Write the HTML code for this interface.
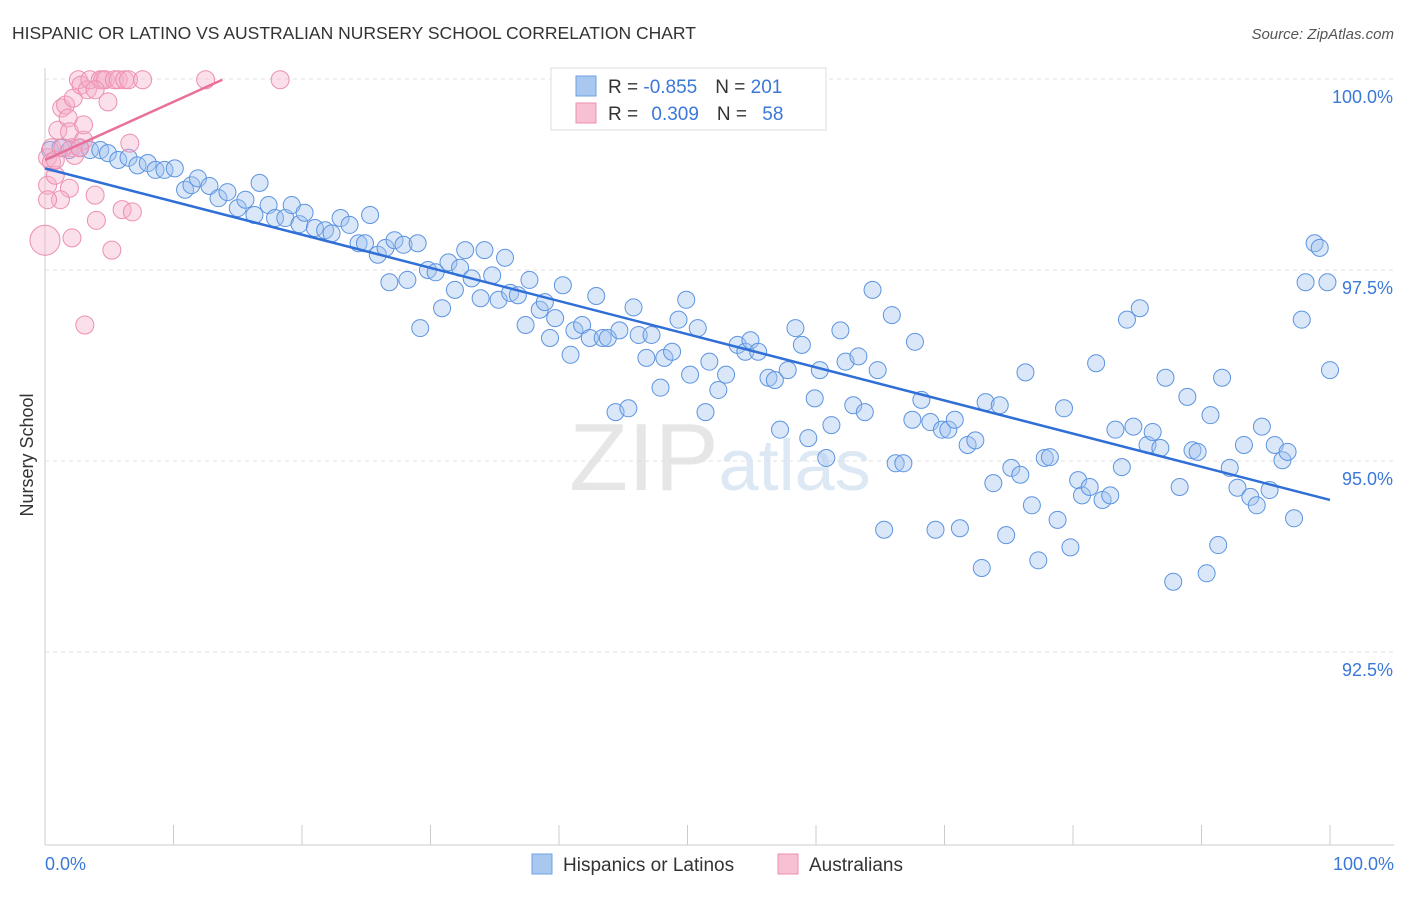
<!DOCTYPE html>
<html><head><meta charset="utf-8"><style>
body{margin:0;background:#fff;font-family:"Liberation Sans",sans-serif}
svg text{font-family:"Liberation Sans",sans-serif}
</style></head><body>
<svg id="chart" width="1406" height="892" xmlns="http://www.w3.org/2000/svg">
<text x="12" y="39" font-size="17.5" fill="#333">HISPANIC OR LATINO VS AUSTRALIAN NURSERY SCHOOL CORRELATION CHART</text>
<text x="1394" y="39" font-size="15" fill="#555" text-anchor="end" font-style="italic">Source: ZipAtlas.com</text>
<text x="720" y="490" font-size="96" fill="#e6e6e6" text-anchor="middle" font-family="Liberation Serif"><tspan>ZIP</tspan><tspan fill="#dde8f5" font-family="Liberation Sans" font-size="72">atlas</tspan></text>
<g id="grid"></g>
<g id="axes"></g>
<g id="pts"></g>
<g id="lines"></g>
<text transform="translate(33,455) rotate(-90)" font-size="18" fill="#333" text-anchor="middle">Nursery School</text>
<text x="45" y="870" font-size="18" fill="#3b78d8">0.0%</text>
<text x="1394" y="870" font-size="18" fill="#3b78d8" text-anchor="end">100.0%</text>
<g>
<rect x="551" y="68" width="275" height="62" fill="#fff" stroke="#ddd"/>
<rect x="576" y="76" width="20" height="20" fill="#a9c8f0" stroke="#6fa0e0"/>
<rect x="576" y="103" width="20" height="20" fill="#f8c0d3" stroke="#ec8fb0"/>
<text x="608" y="93" font-size="19" fill="#333">R = <tspan fill="#3b78d8">-0.855</tspan><tspan dx="18">N = </tspan><tspan fill="#3b78d8">201</tspan></text>
<text x="608" y="120" font-size="19" fill="#333">R = <tspan dx="8" fill="#3b78d8">0.309</tspan><tspan dx="18">N = </tspan><tspan dx="10" fill="#3b78d8">58</tspan></text>
</g>
<g>
<rect x="532" y="854" width="20" height="20" fill="#a9c8f0" stroke="#6fa0e0"/>
<text x="563" y="871" font-size="19" fill="#333">Hispanics or Latinos</text>
<rect x="778" y="854" width="20" height="20" fill="#f8c0d3" stroke="#ec8fb0"/>
<text x="809" y="871" font-size="19" fill="#333">Australians</text>
</g>
</svg>
<script>
const yTicks=[100,97.5,95,92.5];
const yTickLabels=["100.0%","97.5%","95.0%","92.5%"];
const xTicks=[0,10,20,30,40,50,60,70,80,90,100];
const blueX=[0.4,1.2,1.9,2.7,3.5,4.3,4.9,5.7,6.5,7.2,8.0,8.6,9.3,10.1,10.9,11.4,11.9,12.8,13.5,14.2,15.0,15.6,16.3,16.7,17.4,17.9,18.7,19.2,19.8,20.2,21.0,21.8,22.3,23.0,23.7,24.4,24.9,25.3,25.9,26.5,26.8,27.2,27.9,28.2,29.0,29.2,29.8,30.4,30.9,31.4,31.9,32.3,32.7,33.2,33.9,34.2,34.8,35.3,35.8,36.2,36.8,37.4,37.7,38.5,38.9,39.3,39.7,40.3,40.9,41.2,41.8,42.4,42.9,43.4,43.8,44.4,44.7,45.4,45.8,46.2,46.8,47.2,47.9,48.2,48.8,49.3,49.9,50.2,50.8,51.4,51.7,52.4,53.0,53.9,54.5,54.9,55.5,56.3,56.8,57.2,57.8,58.4,58.9,59.4,59.9,60.3,60.8,61.2,61.9,62.3,62.9,63.3,63.8,64.4,64.8,65.3,65.9,66.2,66.8,67.5,67.7,68.2,68.9,69.3,69.8,70.3,70.8,71.2,71.8,72.4,72.9,73.2,73.8,74.3,74.8,75.2,75.9,76.3,76.8,77.3,77.8,78.2,78.8,79.3,79.8,80.4,80.7,81.3,81.8,82.3,82.9,83.3,83.8,84.2,84.7,85.2,85.8,86.2,86.8,87.2,87.8,88.3,88.9,89.3,89.7,90.4,90.7,91.3,91.6,92.2,92.8,93.3,93.8,94.3,94.7,95.3,95.7,96.3,96.7,97.2,97.8,98.1,98.8,99.2,99.8,100];
const blueY=[99.07,99.10,99.07,99.10,99.07,99.07,99.03,98.94,98.97,98.87,98.90,98.81,98.81,98.83,98.55,98.61,98.70,98.60,98.44,98.52,98.31,98.42,98.22,98.64,98.35,98.18,98.18,98.35,98.10,98.25,98.05,98.02,97.98,98.18,98.09,97.85,97.85,98.22,97.70,97.79,97.34,97.89,97.83,97.37,97.85,96.74,97.50,97.47,97.00,97.60,97.24,97.53,97.76,97.39,97.13,97.76,97.43,97.11,97.66,97.20,97.17,96.78,97.37,96.98,97.08,96.61,96.87,97.30,96.39,96.71,96.78,96.61,97.16,96.61,96.61,95.64,96.71,95.69,97.01,96.65,96.35,96.65,95.96,96.35,96.43,96.85,97.11,96.13,96.74,95.64,96.30,95.93,96.13,96.52,96.43,96.58,96.43,96.09,96.06,95.41,96.19,96.74,96.52,95.30,95.82,96.19,95.04,95.47,96.71,96.30,95.73,96.37,95.64,97.24,96.19,94.10,96.91,94.97,94.97,95.54,96.56,95.80,95.51,94.10,95.41,95.41,95.54,94.12,95.21,95.27,93.60,95.77,94.71,95.73,94.03,94.91,94.82,96.16,94.42,93.70,95.04,95.05,94.23,95.69,93.87,94.75,94.55,94.66,96.28,94.49,94.55,95.41,94.92,96.85,95.45,97.00,95.21,95.38,95.17,96.09,93.42,94.66,95.84,95.14,95.12,93.53,95.60,93.90,96.09,94.91,94.65,95.21,94.53,94.42,95.45,94.62,95.21,95.01,95.12,94.25,96.85,97.34,97.85,97.79,97.34,96.19];
const pinkX=[0.2,0.2,0.5,0.5,0.8,1.0,1.3,1.6,1.8,1.9,1.9,2.1,2.2,2.3,2.6,2.8,3.0,3.0,3.1,3.3,3.5,3.9,4.0,4.3,4.5,4.7,4.9,5.2,5.4,5.7,6.0,6.2,6.5,6.6,6.8,7.6,12.5,18.3,1.2,0.2,2.1,0.8,3.9,1.4,2.7];
const pinkY=[98.97,98.61,99.10,98.91,98.74,99.33,99.62,99.66,99.49,98.57,99.31,99.10,99.75,99.00,99.99,99.92,99.20,99.40,96.78,99.86,99.99,98.48,98.15,99.99,99.99,99.99,99.70,97.76,99.99,99.99,98.29,99.99,99.99,99.16,98.26,99.99,99.99,99.99,98.42,98.42,97.92,98.94,99.86,99.10,99.10];
const pinkBigX=[0], pinkBigY=[97.89];
const blueTrend=[[0,98.83],[100,94.49]];
const pinkTrend=[[0,98.94],[13.8,99.99]];
const NS="http://www.w3.org/2000/svg";
const X=v=>45+v*12.85, Y=v=>79+(100-v)/2.5*191;
function mk(tag,attrs,parent){const e=document.createElementNS(NS,tag);for(const k in attrs)e.setAttribute(k,attrs[k]);document.getElementById(parent).appendChild(e);return e;}
yTicks.forEach((t,i)=>{
 const l=mk('line',{x1:45,x2:1394,y1:Y(t),y2:Y(t),stroke:'#e0e0e0','stroke-dasharray':'4,4'},'grid');
 
 
 const tx=mk('text',{x:1393,y:Y(t)+24,'font-size':18,fill:'#3b78d8','text-anchor':'end'},'grid');
 tx.textContent=yTickLabels[i];
 
 
});
const ax=mk('line',{x1:45,x2:1394,y1:845,y2:845,stroke:'#ccc'},'axes');


const ay=mk('line',{x1:45,x2:45,y1:68,y2:845,stroke:'#ccc'},'axes');


xTicks.forEach(t=>{
 const l=mk('line',{x1:X(t),x2:X(t),y1:825,y2:845,stroke:'#ccc'},'axes');
 
 
});
blueX.forEach((v,i)=>{
 const c=mk('circle',{cx:X(v),cy:Y(blueY[i]),r:8.5,fill:'rgba(160,195,240,0.4)',stroke:'#5d94e0','stroke-width':1},'pts');
 
 
});
pinkX.forEach((v,i)=>{
 const c=mk('circle',{cx:X(v),cy:Y(pinkY[i]),r:9,fill:'rgba(246,176,202,0.4)',stroke:'#ec8fb0','stroke-width':1},'pts');
 
 
});
pinkBigX.forEach((v,i)=>{
 const c=mk('circle',{cx:X(v),cy:Y(pinkBigY[i]),r:15,fill:'rgba(246,176,202,0.4)',stroke:'#ec8fb0','stroke-width':1},'pts');
 
 
});
const bl=mk('line',{x1:X(blueTrend[0][0]),y1:Y(blueTrend[0][1]),x2:X(blueTrend[1][0]),y2:Y(blueTrend[1][1]),stroke:'#2f6fd6','stroke-width':2.5},'lines');


const pl=mk('line',{x1:X(pinkTrend[0][0]),y1:Y(pinkTrend[0][1]),x2:X(pinkTrend[1][0]),y2:Y(pinkTrend[1][1]),stroke:'#e8709a','stroke-width':2.5},'lines');


</script>
</body></html>
